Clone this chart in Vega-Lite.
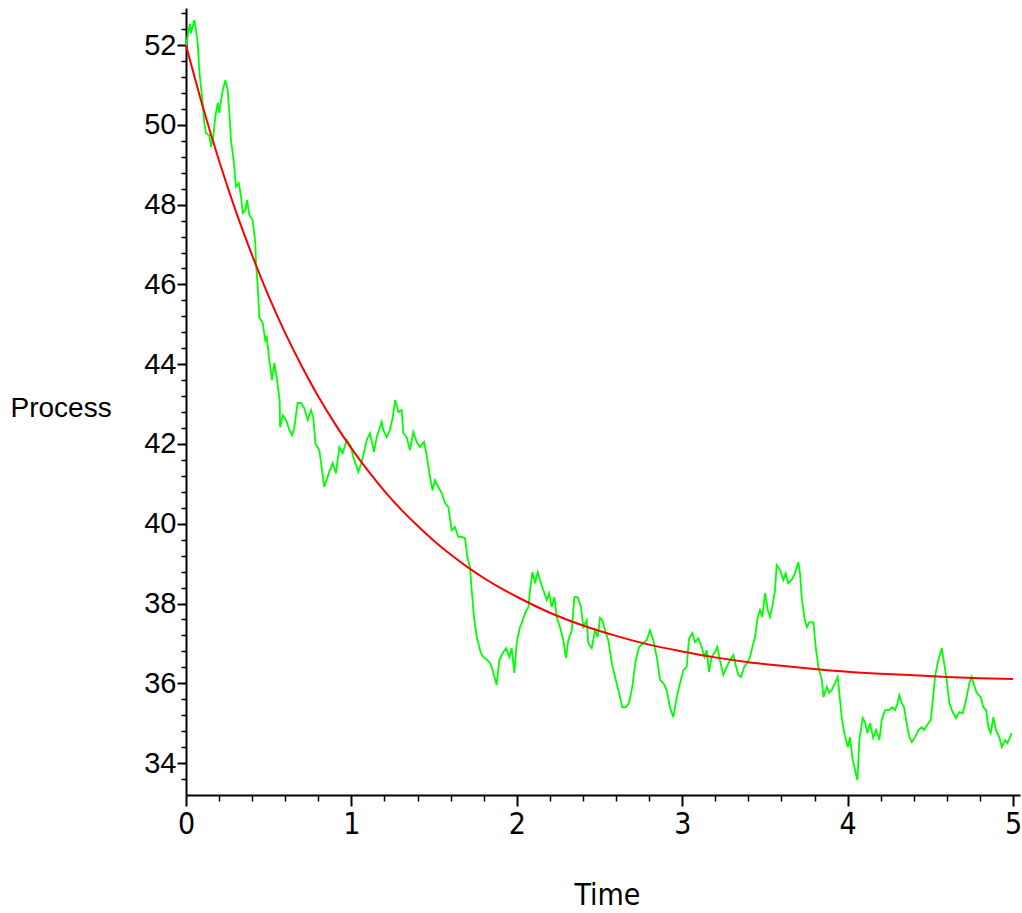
{
  "$schema": "https://vega.github.io/schema/vega-lite/v6.json",
  "width": 834,
  "height": 787,
  "autosize": {"type": "none"},
  "padding": {"left": 186, "top": 8, "right": 2, "bottom": 118},
  "background": "white",
  "config": {"view": {"stroke": null}},
  "datasets": {
    "green": [
      {"t": 0, "v": 52.0}, {"t": 0.024, "v": 52.54}, {"t": 0.03, "v": 52.3}, {"t": 0.05, "v": 52.63}, {"t": 0.06, "v": 52.38},
      {"t": 0.071, "v": 52.05}, {"t": 0.08, "v": 51.37}, {"t": 0.097, "v": 50.7}, {"t": 0.111, "v": 50.04}, {"t": 0.121, "v": 49.79},
      {"t": 0.141, "v": 49.74}, {"t": 0.151, "v": 49.45}, {"t": 0.165, "v": 49.7}, {"t": 0.177, "v": 50.2}, {"t": 0.192, "v": 50.55},
      {"t": 0.201, "v": 50.3}, {"t": 0.212, "v": 50.62}, {"t": 0.222, "v": 50.87}, {"t": 0.238, "v": 51.12}, {"t": 0.252, "v": 50.87},
      {"t": 0.262, "v": 50.3}, {"t": 0.272, "v": 49.62}, {"t": 0.288, "v": 49.12}, {"t": 0.302, "v": 48.45}, {"t": 0.319, "v": 48.54},
      {"t": 0.333, "v": 48.2}, {"t": 0.343, "v": 47.79}, {"t": 0.359, "v": 47.86}, {"t": 0.369, "v": 48.11}, {"t": 0.383, "v": 47.74},
      {"t": 0.403, "v": 47.61}, {"t": 0.419, "v": 47.04}, {"t": 0.423, "v": 46.53}, {"t": 0.434, "v": 45.93}, {"t": 0.443, "v": 45.18},
      {"t": 0.464, "v": 45.03}, {"t": 0.479, "v": 44.6}, {"t": 0.488, "v": 44.68}, {"t": 0.504, "v": 44.1}, {"t": 0.52, "v": 43.6},
      {"t": 0.534, "v": 44.03}, {"t": 0.548, "v": 43.68}, {"t": 0.566, "v": 43.1}, {"t": 0.569, "v": 42.42}, {"t": 0.585, "v": 42.72},
      {"t": 0.605, "v": 42.6}, {"t": 0.625, "v": 42.35}, {"t": 0.641, "v": 42.22}, {"t": 0.655, "v": 42.42}, {"t": 0.675, "v": 43.03},
      {"t": 0.695, "v": 43.03}, {"t": 0.715, "v": 42.9}, {"t": 0.736, "v": 42.6}, {"t": 0.756, "v": 42.85}, {"t": 0.77, "v": 42.65},
      {"t": 0.782, "v": 42.02}, {"t": 0.806, "v": 41.85}, {"t": 0.822, "v": 41.35}, {"t": 0.836, "v": 40.92}, {"t": 0.866, "v": 41.3},
      {"t": 0.887, "v": 41.52}, {"t": 0.907, "v": 41.27}, {"t": 0.927, "v": 41.92}, {"t": 0.947, "v": 41.77}, {"t": 0.972, "v": 42.1},
      {"t": 0.998, "v": 41.92}, {"t": 1.011, "v": 41.67}, {"t": 1.042, "v": 41.3}, {"t": 1.062, "v": 41.55}, {"t": 1.093, "v": 42.1},
      {"t": 1.112, "v": 42.27}, {"t": 1.137, "v": 41.8}, {"t": 1.153, "v": 42.17}, {"t": 1.183, "v": 42.55}, {"t": 1.193, "v": 42.35},
      {"t": 1.213, "v": 42.17}, {"t": 1.233, "v": 42.35}, {"t": 1.25, "v": 42.67}, {"t": 1.264, "v": 43.1}, {"t": 1.284, "v": 42.8},
      {"t": 1.304, "v": 42.85}, {"t": 1.314, "v": 42.27}, {"t": 1.334, "v": 42.17}, {"t": 1.354, "v": 41.85}, {"t": 1.374, "v": 42.3},
      {"t": 1.395, "v": 42.05}, {"t": 1.415, "v": 41.92}, {"t": 1.439, "v": 42.05}, {"t": 1.455, "v": 41.72}, {"t": 1.475, "v": 41.17},
      {"t": 1.491, "v": 40.84}, {"t": 1.505, "v": 41.09}, {"t": 1.525, "v": 40.92}, {"t": 1.546, "v": 40.77}, {"t": 1.566, "v": 40.52},
      {"t": 1.586, "v": 40.42}, {"t": 1.606, "v": 39.84}, {"t": 1.626, "v": 39.92}, {"t": 1.646, "v": 39.67}, {"t": 1.667, "v": 39.67},
      {"t": 1.687, "v": 39.64}, {"t": 1.701, "v": 39.16}, {"t": 1.717, "v": 38.91}, {"t": 1.727, "v": 38.34}, {"t": 1.741, "v": 37.66},
      {"t": 1.758, "v": 37.16}, {"t": 1.782, "v": 36.76}, {"t": 1.797, "v": 36.66}, {"t": 1.822, "v": 36.58}, {"t": 1.838, "v": 36.51},
      {"t": 1.854, "v": 36.33}, {"t": 1.878, "v": 35.96}, {"t": 1.894, "v": 36.58}, {"t": 1.915, "v": 36.76}, {"t": 1.935, "v": 36.88},
      {"t": 1.955, "v": 36.66}, {"t": 1.969, "v": 36.88}, {"t": 1.985, "v": 36.26}, {"t": 1.999, "v": 37.01}, {"t": 2.019, "v": 37.41},
      {"t": 2.03, "v": 37.51}, {"t": 2.05, "v": 37.76}, {"t": 2.07, "v": 37.91}, {"t": 2.08, "v": 38.34}, {"t": 2.094, "v": 38.79},
      {"t": 2.11, "v": 38.51}, {"t": 2.126, "v": 38.79}, {"t": 2.14, "v": 38.59}, {"t": 2.16, "v": 38.34}, {"t": 2.181, "v": 38.09},
      {"t": 2.195, "v": 38.26}, {"t": 2.211, "v": 37.91}, {"t": 2.227, "v": 38.16}, {"t": 2.241, "v": 37.66}, {"t": 2.261, "v": 37.41},
      {"t": 2.281, "v": 37.08}, {"t": 2.297, "v": 36.63}, {"t": 2.311, "v": 37.08}, {"t": 2.332, "v": 37.33}, {"t": 2.348, "v": 38.16},
      {"t": 2.368, "v": 38.16}, {"t": 2.388, "v": 37.91}, {"t": 2.402, "v": 37.41}, {"t": 2.423, "v": 37.58}, {"t": 2.432, "v": 37.01},
      {"t": 2.453, "v": 36.88}, {"t": 2.473, "v": 37.33}, {"t": 2.489, "v": 37.16}, {"t": 2.503, "v": 37.64}, {"t": 2.517, "v": 37.58},
      {"t": 2.533, "v": 37.33}, {"t": 2.553, "v": 37.08}, {"t": 2.574, "v": 36.51}, {"t": 2.594, "v": 36.16}, {"t": 2.618, "v": 35.76},
      {"t": 2.638, "v": 35.4}, {"t": 2.658, "v": 35.4}, {"t": 2.678, "v": 35.5}, {"t": 2.698, "v": 35.91}, {"t": 2.719, "v": 36.58},
      {"t": 2.739, "v": 36.91}, {"t": 2.765, "v": 37.01}, {"t": 2.785, "v": 37.08}, {"t": 2.805, "v": 37.33}, {"t": 2.825, "v": 37.08},
      {"t": 2.846, "v": 36.66}, {"t": 2.866, "v": 36.08}, {"t": 2.886, "v": 36.01}, {"t": 2.906, "v": 35.83}, {"t": 2.926, "v": 35.4},
      {"t": 2.946, "v": 35.15}, {"t": 2.967, "v": 35.65}, {"t": 2.987, "v": 36.01}, {"t": 3.007, "v": 36.33}, {"t": 3.027, "v": 36.41},
      {"t": 3.041, "v": 37.13}, {"t": 3.047, "v": 37.16}, {"t": 3.061, "v": 37.26}, {"t": 3.077, "v": 37.03}, {"t": 3.097, "v": 37.13},
      {"t": 3.118, "v": 36.91}, {"t": 3.134, "v": 36.66}, {"t": 3.148, "v": 36.83}, {"t": 3.162, "v": 36.28}, {"t": 3.178, "v": 36.66},
      {"t": 3.194, "v": 36.76}, {"t": 3.212, "v": 36.91}, {"t": 3.228, "v": 36.58}, {"t": 3.248, "v": 36.21}, {"t": 3.269, "v": 36.41},
      {"t": 3.289, "v": 36.58}, {"t": 3.309, "v": 36.71}, {"t": 3.323, "v": 36.46}, {"t": 3.339, "v": 36.21}, {"t": 3.355, "v": 36.16},
      {"t": 3.375, "v": 36.41}, {"t": 3.396, "v": 36.53}, {"t": 3.41, "v": 36.66}, {"t": 3.424, "v": 36.91}, {"t": 3.44, "v": 37.16},
      {"t": 3.456, "v": 37.66}, {"t": 3.47, "v": 37.84}, {"t": 3.484, "v": 37.66}, {"t": 3.501, "v": 38.26}, {"t": 3.517, "v": 37.84},
      {"t": 3.531, "v": 37.66}, {"t": 3.547, "v": 37.96}, {"t": 3.561, "v": 38.34}, {"t": 3.571, "v": 38.96}, {"t": 3.591, "v": 38.84},
      {"t": 3.611, "v": 38.59}, {"t": 3.626, "v": 38.76}, {"t": 3.641, "v": 38.51}, {"t": 3.662, "v": 38.59}, {"t": 3.682, "v": 38.76},
      {"t": 3.702, "v": 39.04}, {"t": 3.712, "v": 38.76}, {"t": 3.722, "v": 38.16}, {"t": 3.738, "v": 37.66}, {"t": 3.753, "v": 37.41},
      {"t": 3.767, "v": 37.53}, {"t": 3.793, "v": 37.53}, {"t": 3.807, "v": 36.91}, {"t": 3.823, "v": 36.41}, {"t": 3.844, "v": 36.08},
      {"t": 3.854, "v": 35.65}, {"t": 3.874, "v": 35.91}, {"t": 3.889, "v": 35.76}, {"t": 3.904, "v": 35.83}, {"t": 3.924, "v": 36.01},
      {"t": 3.94, "v": 36.16}, {"t": 3.954, "v": 35.58}, {"t": 3.964, "v": 35.15}, {"t": 3.98, "v": 34.75}, {"t": 4.001, "v": 34.4},
      {"t": 4.014, "v": 34.65}, {"t": 4.028, "v": 34.15}, {"t": 4.045, "v": 33.82}, {"t": 4.059, "v": 33.57}, {"t": 4.071, "v": 34.58},
      {"t": 4.091, "v": 35.13}, {"t": 4.105, "v": 35.03}, {"t": 4.119, "v": 34.75}, {"t": 4.135, "v": 35.0}, {"t": 4.155, "v": 34.63},
      {"t": 4.172, "v": 34.83}, {"t": 4.192, "v": 34.58}, {"t": 4.206, "v": 35.08}, {"t": 4.226, "v": 35.33}, {"t": 4.252, "v": 35.33},
      {"t": 4.267, "v": 35.4}, {"t": 4.287, "v": 35.33}, {"t": 4.301, "v": 35.5}, {"t": 4.313, "v": 35.7}, {"t": 4.327, "v": 35.5},
      {"t": 4.341, "v": 35.4}, {"t": 4.357, "v": 35.0}, {"t": 4.373, "v": 34.65}, {"t": 4.388, "v": 34.53}, {"t": 4.408, "v": 34.65},
      {"t": 4.428, "v": 34.83}, {"t": 4.448, "v": 34.9}, {"t": 4.462, "v": 34.83}, {"t": 4.482, "v": 34.96}, {"t": 4.502, "v": 35.08},
      {"t": 4.515, "v": 35.58}, {"t": 4.528, "v": 36.16}, {"t": 4.548, "v": 36.58}, {"t": 4.569, "v": 36.88}, {"t": 4.583, "v": 36.51},
      {"t": 4.599, "v": 36.08}, {"t": 4.615, "v": 35.5}, {"t": 4.635, "v": 35.28}, {"t": 4.655, "v": 35.13}, {"t": 4.675, "v": 35.28},
      {"t": 4.696, "v": 35.25}, {"t": 4.716, "v": 35.58}, {"t": 4.736, "v": 36.01}, {"t": 4.75, "v": 36.16}, {"t": 4.764, "v": 35.96},
      {"t": 4.78, "v": 35.76}, {"t": 4.805, "v": 35.65}, {"t": 4.82, "v": 35.4}, {"t": 4.837, "v": 35.33}, {"t": 4.851, "v": 34.9},
      {"t": 4.865, "v": 34.75}, {"t": 4.881, "v": 35.15}, {"t": 4.897, "v": 34.83}, {"t": 4.917, "v": 34.65}, {"t": 4.932, "v": 34.4},
      {"t": 4.952, "v": 34.58}, {"t": 4.966, "v": 34.5}, {"t": 4.982, "v": 34.65}, {"t": 4.99, "v": 34.75}
    ],
    "red": [
      {"t": 0, "v": 52.0}, {"t": 0.1, "v": 50.48}, {"t": 0.2, "v": 49.1}, {"t": 0.3, "v": 47.85}, {"t": 0.4, "v": 46.73},
      {"t": 0.5, "v": 45.7}, {"t": 0.6, "v": 44.78}, {"t": 0.7, "v": 43.95}, {"t": 0.8, "v": 43.19}, {"t": 0.9, "v": 42.51},
      {"t": 1.0, "v": 41.89}, {"t": 1.1, "v": 41.33}, {"t": 1.2, "v": 40.82}, {"t": 1.3, "v": 40.36}, {"t": 1.4, "v": 39.95},
      {"t": 1.5, "v": 39.57}, {"t": 1.6, "v": 39.23}, {"t": 1.7, "v": 38.92}, {"t": 1.8, "v": 38.64}, {"t": 1.9, "v": 38.39},
      {"t": 2.0, "v": 38.17}, {"t": 2.2, "v": 37.77}, {"t": 2.4, "v": 37.45}, {"t": 2.6, "v": 37.19}, {"t": 2.8, "v": 36.97},
      {"t": 3.0, "v": 36.8}, {"t": 3.2, "v": 36.65}, {"t": 3.4, "v": 36.53}, {"t": 3.6, "v": 36.44}, {"t": 3.8, "v": 36.36},
      {"t": 4.0, "v": 36.29}, {"t": 4.2, "v": 36.24}, {"t": 4.4, "v": 36.2}, {"t": 4.6, "v": 36.16}, {"t": 4.8, "v": 36.13},
      {"t": 5.0, "v": 36.11}
    ]
  },
  "resolve": {"axis": {"x": "independent", "y": "independent"}},
  "layer": [
    {
      "data": {"name": "green"},
      "mark": {"type": "line", "color": "#00ff00", "strokeWidth": 1.8, "interpolate": "linear"},
      "encoding": {
        "x": {
          "field": "t", "type": "quantitative",
          "scale": {"domain": [0, 5.042], "nice": false, "zero": false},
          "axis": {
            "orient": "bottom", "values": [0, 1, 2, 3, 4, 5], "format": "d",
            "grid": false, "domainColor": "black", "domainWidth": 2,
            "tickColor": "black", "tickWidth": 2, "tickSize": 11,
            "labelFont": "'DejaVu Sans Condensed', 'Liberation Sans', sans-serif", "labelFontSize": 30, "labelColor": "black",
            "labelPadding": 3, "labelFlush": false, "labelOverlap": false,
            "title": "Time", "titleFont": "'DejaVu Sans Condensed', 'Liberation Sans', sans-serif", "titleFontSize": 30,
            "titleFontWeight": "normal", "titleColor": "black",
            "titleX": 421, "titleY": 109, "titleAlign": "center", "titleBaseline": "alphabetic"
          }
        },
        "y": {
          "field": "v", "type": "quantitative",
          "scale": {"domain": [33.2, 52.93], "nice": false, "zero": false},
          "axis": {
            "orient": "left", "values": [34, 36, 38, 40, 42, 44, 46, 48, 50, 52],
            "grid": false, "domainColor": "black", "domainWidth": 2,
            "tickColor": "black", "tickWidth": 2, "tickSize": 9,
            "labelFont": "Liberation Sans", "labelFontSize": 29, "labelColor": "black",
            "labelPadding": 1, "labelFlush": false, "labelOverlap": false,
            "title": "Process", "titleFont": "Liberation Sans", "titleFontSize": 28,
            "titleFontWeight": "normal", "titleColor": "black", "titleAngle": 0,
            "titleX": -176, "titleY": 400, "titleAlign": "left", "titleBaseline": "middle"
          }
        }
      }
    },
    {
      "data": {"name": "red"},
      "mark": {"type": "line", "color": "#ff0000", "strokeWidth": 2, "interpolate": "monotone"},
      "encoding": {
        "x": {
          "field": "t", "type": "quantitative",
          "axis": {
            "orient": "bottom",
            "values": [0.2, 0.4, 0.6, 0.8, 1.2, 1.4, 1.6, 1.8, 2.2, 2.4, 2.6, 2.8, 3.2, 3.4, 3.6, 3.8, 4.2, 4.4, 4.6, 4.8],
            "grid": false, "domain": false, "labels": false, "title": null,
            "tickColor": "black", "tickWidth": 1.5, "tickSize": 6
          }
        },
        "y": {
          "field": "v", "type": "quantitative",
          "axis": {
            "orient": "left",
            "values": [33.6, 34.4, 34.8, 35.2, 35.6, 36.4, 36.8, 37.2, 37.6, 38.4, 38.8, 39.2, 39.6, 40.4, 40.8, 41.2, 41.6, 42.4, 42.8, 43.2, 43.6, 44.4, 44.8, 45.2, 45.6, 46.4, 46.8, 47.2, 47.6, 48.4, 48.8, 49.2, 49.6, 50.4, 50.8, 51.2, 51.6, 52.4, 52.8],
            "grid": false, "domain": false, "labels": false, "title": null,
            "tickColor": "black", "tickWidth": 1.5, "tickSize": 5
          }
        }
      }
    }
  ]
}
